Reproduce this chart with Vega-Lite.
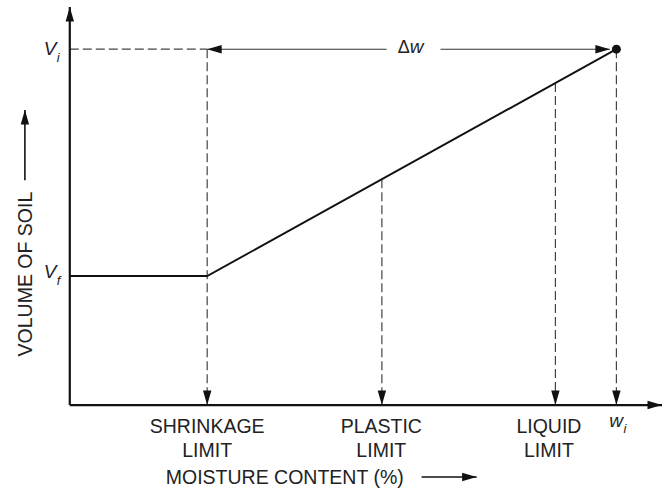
{
  "$schema": "https://vega.github.io/schema/vega-lite/v6.json",
  "width": 664,
  "height": 491,
  "padding": 0,
  "autosize": {"type": "fit", "contains": "padding"},
  "background": "white",
  "config": {"view": {"stroke": null}, "text": {"font": "Liberation Sans", "color": "#222"}},
  "datasets": {
    "curve": [{"x": 0, "y": 32.4}, {"x": 23.2, "y": 32.4}, {"x": 92.3, "y": 89.4}],
    "dashes": [
      {"x": 0, "y": 89.4, "x2": 23.2, "y2": 89.4},
      {"x": 23.2, "y": 89.4, "x2": 23.2, "y2": 0},
      {"x": 52.7, "y": 56.7, "x2": 52.7, "y2": 0},
      {"x": 82.0, "y": 80.9, "x2": 82.0, "y2": 0},
      {"x": 92.3, "y": 89.4, "x2": 92.3, "y2": 0}
    ],
    "deltaLines": [
      {"x": 23.2, "y": 89.4, "x2": 53.5, "y2": 89.4},
      {"x": 62.6, "y": 89.4, "x2": 91.2, "y2": 89.4}
    ],
    "axes": [
      {"x": 0, "y": 0, "x2": 100, "y2": 0},
      {"x": 0, "y": 0, "x2": 0, "y2": 100}
    ],
    "labelArrows": [
      {"x": 59.4, "y": -18.1, "x2": 68.7, "y2": -18.1},
      {"x": -7.58, "y": 56.5, "x2": -7.58, "y2": 74.1}
    ],
    "heads": [
      {"x": 100, "y": 0, "dir": "right"},
      {"x": 0, "y": 100, "dir": "up"},
      {"x": 23.2, "y": 0, "dir": "down"},
      {"x": 52.7, "y": 0, "dir": "down"},
      {"x": 82.0, "y": 0, "dir": "down"},
      {"x": 92.3, "y": 0, "dir": "down"},
      {"x": 23.2, "y": 89.4, "dir": "left"},
      {"x": 91.2, "y": 89.4, "dir": "right"},
      {"x": 68.7, "y": -18.1, "dir": "right"},
      {"x": -7.58, "y": 74.1, "dir": "up"}
    ],
    "dot": [{"x": 92.3, "y": 89.4}],
    "labels": [
      {"x": 23.2, "y": -7.04, "t": "SHRINKAGE"},
      {"x": 23.2, "y": -13.07, "t": "LIMIT"},
      {"x": 52.6, "y": -7.04, "t": "PLASTIC"},
      {"x": 52.6, "y": -13.07, "t": "LIMIT"},
      {"x": 80.9, "y": -7.04, "t": "LIQUID"},
      {"x": 80.9, "y": -13.07, "t": "LIMIT"},
      {"x": 36.3, "y": -19.85, "t": "MOISTURE CONTENT (%)"}
    ],
    "symbols": [
      {"x": -4.38, "y": 87.9, "t": "V"},
      {"x": -4.38, "y": 31.9, "t": "V"},
      {"x": 91.08, "y": -5.53, "t": "w"},
      {"x": 57.4, "y": 88.4, "t": "w"}
    ],
    "subs": [
      {"x": -2.19, "y": 86.2, "t": "i"},
      {"x": -2.19, "y": 30.2, "t": "f"},
      {"x": 93.5, "y": -7.04, "t": "i"}
    ],
    "delta": [{"x": 57.4, "y": 88.4, "t": "Δ"}],
    "ylabel": [{"x": -6.4, "y": 32.9, "t": "VOLUME OF SOIL"}]
  },
  "encoding": {
    "x": {"field": "x", "type": "quantitative", "axis": null, "scale": {"domain": [-11.785, 100], "nice": false, "zero": false}},
    "y": {"field": "y", "type": "quantitative", "axis": null, "scale": {"domain": [-21.6, 101.76], "nice": false, "zero": false}}
  },
  "layer": [
    {
      "data": {"name": "dashes"},
      "mark": {"type": "rule", "color": "#444", "strokeWidth": 1.2, "strokeDash": [9, 4]},
      "encoding": {"x2": {"field": "x2"}, "y2": {"field": "y2"}}
    },
    {
      "data": {"name": "deltaLines"},
      "mark": {"type": "rule", "color": "#333", "strokeWidth": 1.1},
      "encoding": {"x2": {"field": "x2"}, "y2": {"field": "y2"}}
    },
    {
      "data": {"name": "axes"},
      "mark": {"type": "rule", "color": "#111", "strokeWidth": 2.2},
      "encoding": {"x2": {"field": "x2"}, "y2": {"field": "y2"}}
    },
    {
      "data": {"name": "labelArrows"},
      "mark": {"type": "rule", "color": "#111", "strokeWidth": 1.6},
      "encoding": {"x2": {"field": "x2"}, "y2": {"field": "y2"}}
    },
    {
      "data": {"name": "curve"},
      "mark": {"type": "line", "color": "#111", "strokeWidth": 1.9},
      "encoding": {}
    },
    {
      "data": {"name": "dot"},
      "mark": {"type": "point", "shape": "circle", "filled": true, "color": "#111", "size": 80, "opacity": 1},
      "encoding": {}
    },
    {
      "data": {"name": "heads"},
      "transform": [{"filter": "datum.dir === 'up'"}],
      "mark": {"type": "point", "shape": "M0,0L-0.58,2L0.58,2Z", "filled": true, "color": "#111", "size": 210, "opacity": 1, "angle": 0},
      "encoding": {}
    },
    {
      "data": {"name": "heads"},
      "transform": [{"filter": "datum.dir === 'right'"}],
      "mark": {"type": "point", "shape": "M0,0L-0.58,2L0.58,2Z", "filled": true, "color": "#111", "size": 210, "opacity": 1, "angle": 90},
      "encoding": {}
    },
    {
      "data": {"name": "heads"},
      "transform": [{"filter": "datum.dir === 'down'"}],
      "mark": {"type": "point", "shape": "M0,0L-0.58,2L0.58,2Z", "filled": true, "color": "#111", "size": 210, "opacity": 1, "angle": 180},
      "encoding": {}
    },
    {
      "data": {"name": "heads"},
      "transform": [{"filter": "datum.dir === 'left'"}],
      "mark": {"type": "point", "shape": "M0,0L-0.58,2L0.58,2Z", "filled": true, "color": "#111", "size": 210, "opacity": 1, "angle": 270},
      "encoding": {}
    },
    {
      "data": {"name": "labels"},
      "mark": {"type": "text", "fontSize": 19.5, "align": "center", "baseline": "alphabetic"},
      "encoding": {"text": {"field": "t"}}
    },
    {
      "data": {"name": "symbols"},
      "mark": {"type": "text", "fontSize": 19, "fontStyle": "italic", "align": "left", "baseline": "alphabetic"},
      "encoding": {"text": {"field": "t"}}
    },
    {
      "data": {"name": "subs"},
      "mark": {"type": "text", "fontSize": 13, "fontStyle": "italic", "align": "left", "baseline": "alphabetic"},
      "encoding": {"text": {"field": "t"}}
    },
    {
      "data": {"name": "delta"},
      "mark": {"type": "text", "fontSize": 18, "align": "right", "baseline": "alphabetic"},
      "encoding": {"text": {"field": "t"}}
    },
    {
      "data": {"name": "ylabel"},
      "mark": {"type": "text", "fontSize": 19.5, "align": "center", "baseline": "alphabetic", "angle": 270},
      "encoding": {"text": {"field": "t"}}
    }
  ]
}
